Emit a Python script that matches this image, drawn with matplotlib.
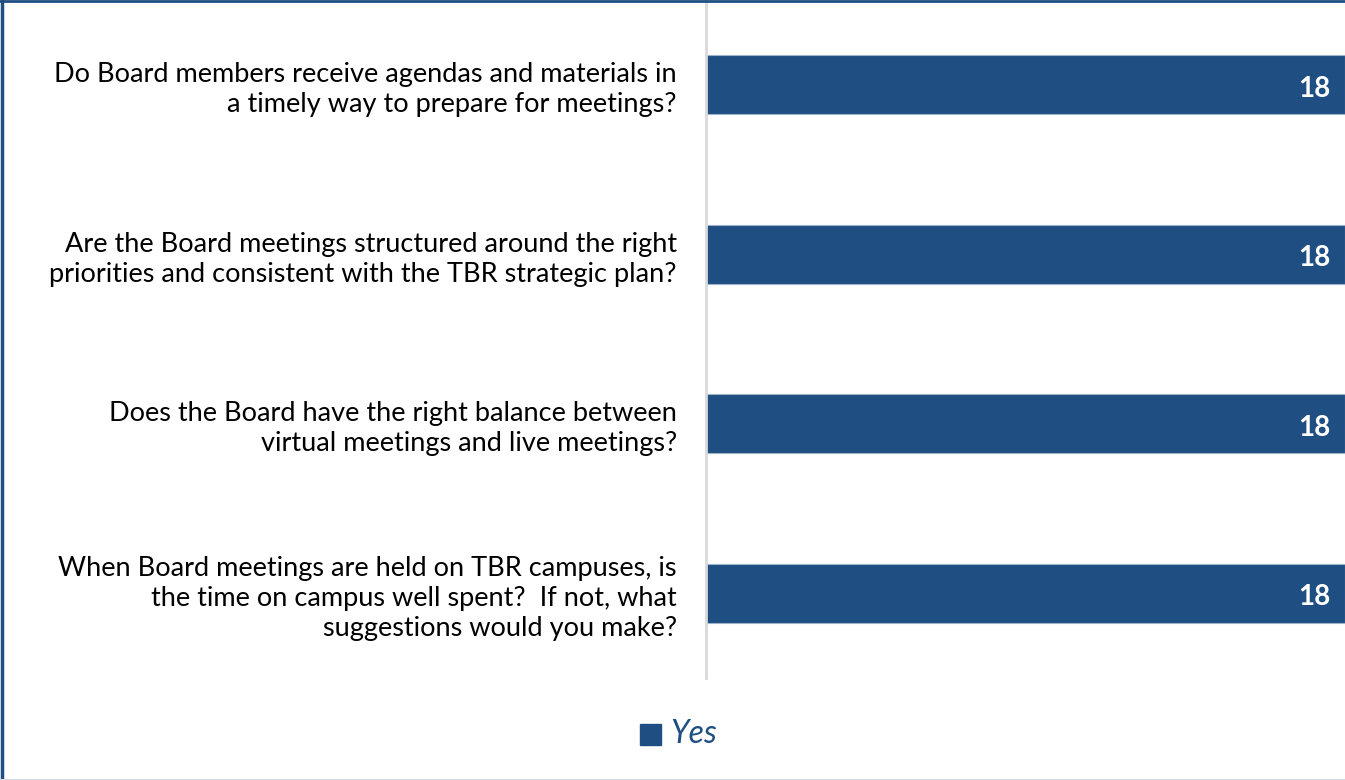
import matplotlib.pyplot as plt
from matplotlib.patches import Rectangle

questions = [
    "Do Board members receive agendas and materials in\na timely way to prepare for meetings?",
    "Are the Board meetings structured around the right\npriorities and consistent with the TBR strategic plan?",
    "Does the Board have the right balance between\nvirtual meetings and live meetings?",
    "When Board meetings are held on TBR campuses, is\nthe time on campus well spent?  If not, what\nsuggestions would you make?",
]
yes_counts = [18, 18, 18, 18]

bar_color = "#1F4E82"
plt.rcParams['font.family'] = ['Lato', 'DejaVu Sans']

fig = plt.figure(figsize=(13.45, 7.80), dpi=100)
ax = fig.add_axes([706 / 1345, 1 - 678 / 780, 639 / 1345, 678 / 780])

pos = list(range(len(questions)))
bars = ax.barh(pos, yes_counts, height=0.35, color=bar_color,
               edgecolor="#9DB3CC", linewidth=0.8, label="Yes")
ax.set_xlim(0, max(yes_counts))
ax.set_ylim(len(questions) - 0.5, -0.5)

ax.set_yticks(pos)
ax.set_yticklabels(questions, fontsize=19.5, linespacing=1.25, ha="right")
ax.tick_params(axis="y", length=0, pad=21)
ax.set_xticks([])
for s in ["top", "right", "bottom"]:
    ax.spines[s].set_visible(False)
ax.spines["left"].set_color("#D9D9D9")
ax.spines["left"].set_linewidth(2)

for b, v in zip(bars, yes_counts):
    ax.text(b.get_width() - 0.4, b.get_y() + b.get_height() / 2 + 0.025, str(v),
            ha="right", va="center", color="white", fontsize=20,
            fontweight="bold")

# legend at the bottom
fig.patches.append(Rectangle((640 / 1345, 1 - 745 / 780), 21 / 1345, 21 / 780,
                             transform=fig.transFigure, color=bar_color))
fig.text(670 / 1345, 1 - 734 / 780, "Yes", fontsize=23, style="italic",
         color=bar_color, va="center", ha="left")

# frame around the figure
fig.add_artist(plt.Line2D([1.5 / 1345, 1.5 / 1345], [0, 1], color=bar_color,
                          lw=2.5, transform=fig.transFigure))
fig.add_artist(plt.Line2D([0, 1], [1 - 1 / 780, 1 - 1 / 780], color=bar_color,
                          lw=2, transform=fig.transFigure))
fig.add_artist(plt.Line2D([0, 1], [0.5 / 780, 0.5 / 780], color="#D6DCE4",
                          lw=1.5, transform=fig.transFigure))

fig.savefig("out.png", dpi=100)
